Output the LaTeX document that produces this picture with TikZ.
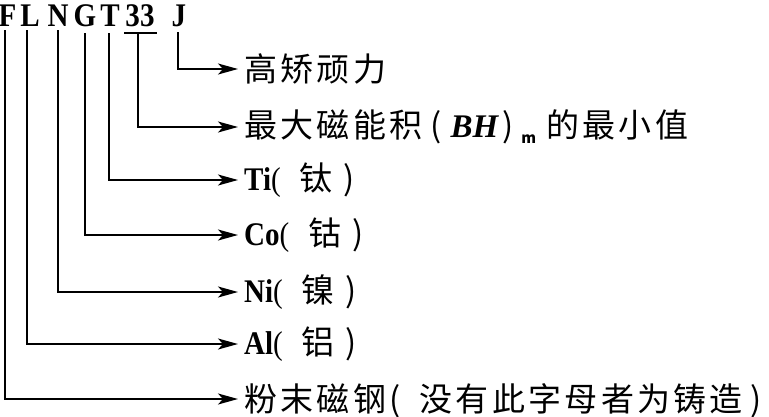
\documentclass[tikz,border=0pt]{standalone}
\usepackage{fontspec}
\setmainfont{Liberation Serif}[FakeStretch=0.88]
\newfontfamily\cjk[LetterSpace=10]{Noto Sans CJK SC}
\newfontfamily\bhfont{Liberation Serif Bold Italic}
\usetikzlibrary{arrows.meta}
\begin{document}
\begin{tikzpicture}[x=1pt,y=-1pt,
  conn/.style={line width=1.8pt},
  arr/.style={conn,-{Stealth[length=20pt,width=11pt,inset=5pt]},shorten >=6pt},
  lbl/.style={anchor=west,inner sep=0pt,font=\fontsize{33}{33}\selectfont},
  letr/.style={anchor=base,inner sep=0pt,font=\fontsize{33}{33}\selectfont\bfseries}]
\useasboundingbox (0,0) rectangle (769,416);
% code letters
\node[letr] (F) at (7.5,26) {F};
\node[letr] (L) at (30,26) {L};
\node[letr] (N) at (58,26) {N};
\node[letr] (G) at (85,26) {G};
\node[letr] (T) at (110,26) {T};
\node[letr] (D) at (140,26) {33};
\node[letr] (J) at (179,26) {J};
% labels
\node[lbl] (l1) at (244,69) {\cjk{高矫顽力}};
\node[lbl] (l2) at (244,127) {\cjk{最大磁能积}\hspace{8pt}(\hspace{9pt}{\bhfont BH}\hspace{4pt})\hspace{8pt}\raisebox{-6pt}{\fontsize{15}{15}\selectfont\bfseries m}\hspace{10pt}\cjk{的最小值}};
\node[lbl] (l3) at (244,180) {\textbf{Ti}(\hspace{19pt}\cjk{钛}\hspace{11pt})};
\node[lbl] (l4) at (244,235) {\textbf{Co}(\hspace{19pt}\cjk{钴}\hspace{11pt})};
\node[lbl] (l5) at (244,292) {\textbf{Ni}(\hspace{19pt}\cjk{镍}\hspace{11pt})};
\node[lbl] (l6) at (244,344) {\textbf{Al}(\hspace{19pt}\cjk{铝}\hspace{11pt})};
\node[lbl] (l7) at (244,401) {\cjk{粉末磁钢}(\hspace{19pt}\cjk{没有此字母者为铸造}\hspace{8pt})};
% start points of connectors
\coordinate (cF) at (5,30);
\coordinate (cL) at (27,30);
\coordinate (cN) at (58,30);
\coordinate (cG) at (85,33);
\coordinate (cT) at (109,33);
\coordinate (cDa) at (124,33);
\coordinate (cDb) at (157,33);
\coordinate (cD) at (138,33);
\coordinate (cJ) at (178,32);
\draw[conn] (cDa) -- (cDb);
\draw[arr] (cJ) |- (l1.west);
\draw[arr] (cD) |- (l2.west);
\draw[arr] (cT) |- (l3.west);
\draw[arr] (cG) |- (l4.west);
\draw[arr] (cN) |- (l5.west);
\draw[arr] (cL) |- (l6.west);
\draw[arr] (cF) |- ([yshift=2pt]l7.west);
\end{tikzpicture}
\end{document}
